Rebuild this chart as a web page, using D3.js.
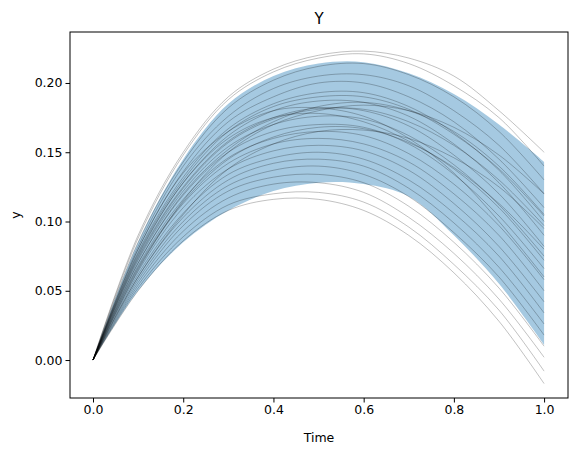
<!DOCTYPE html>
<html><head><meta charset="utf-8">
<script src="https://cdn.jsdelivr.net/npm/d3@7"></script>
<style>body{margin:0;background:#fff}svg{font-family:"DejaVu Sans",sans-serif}</style>
</head><body><svg id="c" width="576" height="455"></svg>
<script>
const times = [0,0.1,0.2,0.3,0.4,0.5,0.6,0.7,0.8,0.9,1.0];
const bandUpper = [0,0.085,0.145,0.185,0.205,0.214,0.215,0.207,0.192,0.17,0.143];
const bandLower = [0,0.05,0.085,0.108,0.122,0.128,0.127,0.118,0.09,0.055,0.011];
const samples = [
[0,0.09,0.15,0.19,0.21,0.22,0.223,0.218,0.205,0.18,0.15],
[0,0.088,0.148,0.188,0.208,0.218,0.221,0.214,0.198,0.175,0.14],
[0,0.085,0.143,0.182,0.202,0.212,0.214,0.206,0.19,0.165,0.13],
[0,0.082,0.14,0.176,0.196,0.205,0.206,0.198,0.18,0.155,0.12],
[0,0.08,0.136,0.172,0.19,0.2,0.2,0.19,0.172,0.145,0.11],
[0,0.078,0.132,0.167,0.185,0.193,0.193,0.183,0.164,0.137,0.1],
[0,0.076,0.128,0.162,0.18,0.187,0.186,0.176,0.156,0.128,0.09],
[0,0.074,0.125,0.158,0.175,0.182,0.18,0.169,0.148,0.12,0.082],
[0,0.072,0.122,0.154,0.17,0.176,0.174,0.162,0.141,0.112,0.075],
[0,0.07,0.119,0.15,0.165,0.17,0.168,0.156,0.134,0.104,0.066],
[0,0.068,0.116,0.146,0.16,0.165,0.162,0.149,0.127,0.097,0.058],
[0,0.066,0.113,0.142,0.156,0.16,0.156,0.143,0.12,0.09,0.05],
[0,0.064,0.11,0.138,0.151,0.155,0.151,0.137,0.113,0.082,0.042],
[0,0.062,0.106,0.134,0.146,0.15,0.145,0.13,0.106,0.075,0.034],
[0,0.06,0.103,0.13,0.142,0.145,0.14,0.124,0.099,0.067,0.026],
[0,0.058,0.1,0.126,0.137,0.14,0.134,0.118,0.092,0.06,0.018],
[0,0.056,0.097,0.122,0.132,0.134,0.128,0.111,0.085,0.052,0.01],
[0,0.054,0.093,0.117,0.127,0.128,0.121,0.103,0.077,0.044,0.002],
[0,0.052,0.089,0.112,0.12,0.121,0.114,0.096,0.069,0.036,-0.008],
[0,0.05,0.086,0.108,0.116,0.116,0.108,0.09,0.063,0.028,-0.017],
[0,0.08,0.135,0.165,0.18,0.182,0.176,0.16,0.135,0.1,0.06],
[0,0.065,0.115,0.15,0.17,0.18,0.184,0.18,0.168,0.148,0.12],
[0,0.07,0.12,0.152,0.172,0.183,0.186,0.18,0.165,0.14,0.105],
[0,0.075,0.128,0.16,0.175,0.178,0.172,0.158,0.138,0.11,0.072],
[0,0.06,0.105,0.138,0.156,0.165,0.166,0.16,0.146,0.125,0.095],
[0,0.073,0.124,0.157,0.174,0.181,0.181,0.172,0.155,0.13,0.097],
[0,0.067,0.114,0.145,0.161,0.168,0.167,0.157,0.139,0.113,0.08],
[0,0.077,0.13,0.165,0.183,0.19,0.19,0.181,0.163,0.138,0.104]
];
const xTicks = [0,0.2,0.4,0.6,0.8,1.0];
const yTicks = [0,0.05,0.1,0.15,0.2];

const svg = d3.select("#c");
const L=70,R=568,T=32,B=398;
const x = d3.scaleLinear().domain([-0.051,1.053]).range([L,R]);
const y = d3.scaleLinear().domain([-0.0274,0.2368]).range([B,T]);
const area = d3.area().x((d,i)=>x(times[i])).y0((d,i)=>y(bandLower[i])).y1(d=>y(d)).curve(d3.curveCatmullRom);
svg.append("path").attr("d",area(bandUpper)).attr("fill","#1f77b4").attr("fill-opacity",0.4);
const line = d3.line().x((d,i)=>x(times[i])).y(d=>y(d)).curve(d3.curveCatmullRom);
samples.forEach(s=>svg.append("path").attr("d",line(s)).attr("fill","none")
  .attr("stroke","#000").attr("stroke-opacity",0.35).attr("stroke-width",0.7));

const gx = svg.append("g").attr("transform",`translate(0,${B})`)
  .call(d3.axisBottom(x).tickValues(xTicks).tickFormat(d3.format(".1f")).tickSizeOuter(0).tickSize(4.5));
const gy = svg.append("g").attr("transform",`translate(${L},0)`)
  .call(d3.axisLeft(y).tickValues(yTicks).tickFormat(d3.format(".2f")).tickSizeOuter(0).tickSize(4.5));
[gx,gy].forEach(g=>{g.select(".domain").remove();g.selectAll("text").attr("font-size",12.5).attr("fill","#000").style("font-family","DejaVu Sans");g.selectAll("line").attr("stroke","#000");});
svg.append("rect").attr("x",L).attr("y",T).attr("width",R-L).attr("height",B-T).attr("fill","none").attr("stroke","#000").attr("stroke-width",1);
svg.append("text").attr("x",(L+R)/2).attr("y",T-8).attr("text-anchor","middle").attr("font-size",15).text("Y");
svg.append("text").attr("x",(L+R)/2).attr("y",442).attr("text-anchor","middle").attr("font-size",12.5).text("Time");
svg.append("text").attr("transform",`translate(20,${(T+B)/2}) rotate(-90)`).attr("text-anchor","middle").attr("font-size",12.5).text("y");
</script></body></html>
